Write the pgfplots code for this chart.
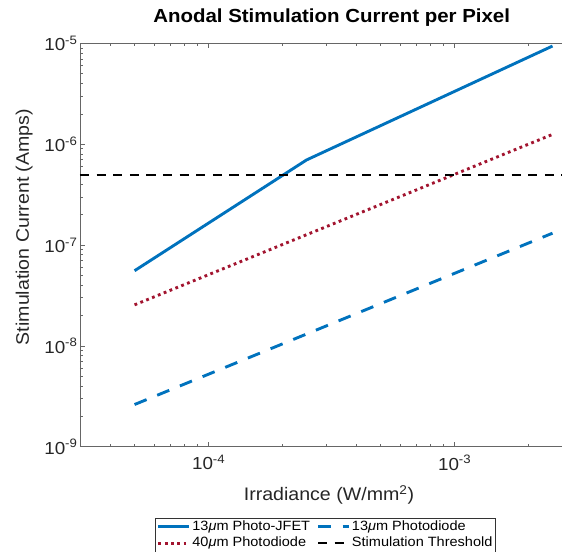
\documentclass[border=0pt]{standalone}
\usepackage{pgfplots}
\pgfplotsset{compat=1.18}
\usepackage{fontspec}
\setmainfont{Liberation Sans}[FakeStretch=1.08]
\definecolor{mblue}{RGB}{0,114,189}
\definecolor{mred}{RGB}{162,20,47}
\definecolor{axgray}{RGB}{38,38,38}
\begin{document}
\begin{tikzpicture}
\begin{axis}[
  at={(0pt,0pt)}, anchor=south west,
  xmode=log, ymode=log,
  scale only axis,
  width=492bp, height=403.4bp,
  xmin=3e-5, xmax=3e-3,
  ymin=1e-9, ymax=1e-5,
  xtick={1e-4,1e-3},
  xticklabels={10\textsuperscript{-4},10\textsuperscript{-3}},
  ytick={1e-9,1e-8,1e-7,1e-6,1e-5},
  yticklabels={10\textsuperscript{-9},10\textsuperscript{-8},10\textsuperscript{-7},10\textsuperscript{-6},10\textsuperscript{-5}},
  minor xtick={4e-5,5e-5,6e-5,7e-5,8e-5,9e-5,2e-4,3e-4,4e-4,5e-4,6e-4,7e-4,8e-4,9e-4,2e-3},
  minor ytick={2e-9,3e-9,4e-9,5e-9,6e-9,7e-9,8e-9,9e-9,2e-8,3e-8,4e-8,5e-8,6e-8,7e-8,8e-8,9e-8,2e-7,3e-7,4e-7,5e-7,6e-7,7e-7,8e-7,9e-7,2e-6,3e-6,4e-6,5e-6,6e-6,7e-6,8e-6,9e-6},
  major tick length=5bp, minor tick length=3bp,
  axis line style={black!60, line width=0.6pt},
  tick style={black!60, line width=0.6pt},
  tick label style={font=\fontsize{17.5}{19}\selectfont, text=axgray},
  yticklabel style={xshift=1bp},
  xticklabel style={yshift=-5bp},
  title={Anodal Stimulation Current per Pixel},
  title style={at={(axis description cs:0.5116,1.0372)}, anchor=base, font=\fontsize{19}{21}\selectfont\bfseries},
  xlabel={Irradiance (W/mm\textsuperscript{2})},
  xlabel style={at={(axis description cs:0.506,-0.1339)}, anchor=base, font=\fontsize{18.2}{20}\selectfont, text=axgray},
  ylabel={Stimulation Current (Amps)},
  ylabel style={at={(axis description cs:-0.1037,0.5446)}, anchor=base, font=\fontsize{18.2}{20}\selectfont, text=axgray},
  legend columns=2,
  legend cell align=left,
  legend image code/.code={\draw[#1] (0bp,0bp) -- (31bp,0bp);},
  legend style={at={(axis description cs:0.499,-0.1767)}, anchor=north,
    draw=black!80, line width=0.5pt, fill=white,
    font=\fontsize{13.5}{15}\selectfont,
    inner xsep=1.5pt, inner ysep=1pt,
    nodes={inner sep=1.5pt, text height=9.5pt, text depth=2.7pt},
    row sep=1.5pt,
    /tikz/every even column/.append style={column sep=5pt}},
]
\addplot[mblue, line width=2.9pt] coordinates {(5e-5,5.56e-8) (2.5e-4,6.97e-7) (2.5e-3,9.4e-6)};
\addlegendentry{13\textit{μ}m Photo-JFET}
\addplot[mblue, line width=2.9pt, dash pattern=on 13bp off 11.5bp] coordinates {(5e-5,2.62e-9) (2.5e-3,1.31e-7)};
\addlegendentry{13\textit{μ}m Photodiode}
\addplot[mred, line width=2.9pt, dash pattern=on 2.8bp off 3.5bp] coordinates {(5e-5,2.55e-8) (2.5e-3,1.25e-6)};
\addlegendentry{40\textit{μ}m Photodiode}
\addplot[black, line width=2.0pt, dash pattern=on 9.3bp off 7.3bp] coordinates {(3e-5,5e-7) (3e-3,5e-7)};
\addlegendentry{Stimulation Threshold}
\end{axis}
\pgfresetboundingbox
\useasboundingbox (-80bp,-105.3bp) rectangle (482bp,446.7bp);
\end{tikzpicture}
\end{document}
